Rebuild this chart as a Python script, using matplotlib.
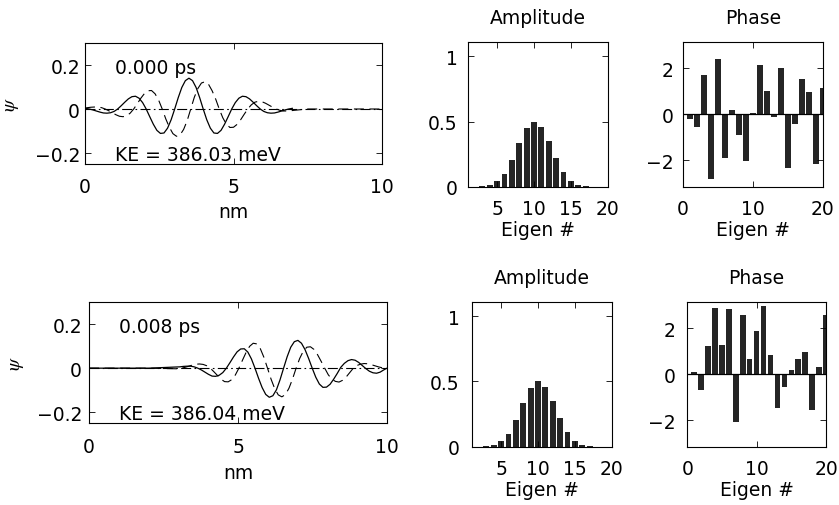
import numpy as np
import matplotlib
matplotlib.use("Agg")
import matplotlib.pyplot as plt

plt.rcParams['font.family'] = ['DejaVu Sans']
plt.rcParams['font.size'] = 13.5
plt.rcParams['axes.titlesize'] = 13.5
plt.rcParams['mathtext.fontset'] = 'stix'
plt.rcParams['axes.linewidth'] = 0.8
plt.rcParams['xtick.direction'] = 'in'
plt.rcParams['ytick.direction'] = 'in'
plt.rcParams['xtick.top'] = True
plt.rcParams['ytick.right'] = True
plt.rcParams['xtick.major.size'] = 4
plt.rcParams['ytick.major.size'] = 4
plt.rcParams['xtick.major.width'] = 0.6
plt.rcParams['ytick.major.width'] = 0.6

# ---- wave packet, t = 0.000 ps
x_re0 = np.linspace(0.02, 6.98, 59)
re0 = [0.003, 0.000, -0.004, -0.009, -0.014, -0.018, -0.019, -0.017, -0.011, 0.000,
       0.015, 0.031, 0.046, 0.056, 0.058, 0.049, 0.029, 0.000, -0.035, -0.069,
       -0.097, -0.111, -0.109, -0.087, -0.049, 0.000, 0.052, 0.098, 0.129, 0.140,
       0.129, 0.098, 0.052, 0.000, -0.049, -0.087, -0.109, -0.111, -0.097, -0.069,
       -0.035, 0.000, 0.029, 0.049, 0.058, 0.056, 0.046, 0.031, 0.015, 0.000,
       -0.011, -0.017, -0.019, -0.018, -0.014, -0.009, -0.004, 0.000, 0.003]
x_im0 = np.linspace(0.08, 7.04, 59)
im0 = [0.006, 0.008, 0.009, 0.009, 0.006, 0.000, -0.008, -0.017, -0.026, -0.033,
       -0.035, -0.031, -0.019, 0.000, 0.024, 0.049, 0.070, 0.083, 0.084, 0.069,
       0.040, 0.000, -0.045, -0.083, -0.112, -0.124, -0.118, -0.093, -0.053, 0.000,
       0.053, 0.093, 0.118, 0.124, 0.112, 0.083, 0.045, 0.000, -0.040, -0.069,
       -0.084, -0.083, -0.070, -0.049, -0.024, 0.000, 0.019, 0.031, 0.035, 0.033,
       0.026, 0.017, 0.008, 0.000, -0.006, -0.009, -0.009, -0.008, -0.006]

# ---- wave packet, t = 0.008 ps
x_re1 = np.linspace(3.05, 9.89, 58)
re1 = [0.006, 0.008, 0.009, 0.009, 0.006, 0.000, -0.008, -0.018, -0.028, -0.036,
       -0.037, -0.032, -0.020, 0.000, 0.025, 0.051, 0.074, 0.087, 0.088, 0.073,
       0.042, 0.000, -0.046, -0.088, -0.119, -0.132, -0.125, -0.098, -0.053, 0.000,
       0.052, 0.095, 0.120, 0.126, 0.113, 0.084, 0.044, 0.000, -0.041, -0.072,
       -0.087, -0.086, -0.073, -0.050, -0.024, 0.004, 0.022, 0.034, 0.039, 0.036,
       0.026, 0.012, -0.002, -0.014, -0.021, -0.023, -0.018, -0.008]
x_im1 = np.linspace(2.99, 9.95, 59)
im1 = [-0.003, 0.000, 0.004, 0.009, 0.014, 0.018, 0.019, 0.017, 0.011, 0.000,
       -0.016, -0.033, -0.050, -0.061, -0.062, -0.052, -0.031, 0.000, 0.036, 0.071,
       0.099, 0.113, 0.110, 0.088, 0.049, 0.000, -0.050, -0.092, -0.121, -0.130,
       -0.120, -0.091, -0.049, 0.000, 0.044, 0.077, 0.095, 0.097, 0.085, 0.061,
       0.031, 0.000, -0.030, -0.050, -0.060, -0.063, -0.055, -0.040, -0.020, 0.000,
       0.012, 0.018, 0.021, 0.020, 0.016, 0.011, 0.006, 0.002, 0.000]

zero_x = [0, 10]
zero_y = [0, 0]

times = ['0.000 ps', '0.008 ps']
energies = ['KE = 386.03 meV', 'KE = 386.04 meV']

# ---- eigenstate expansion
eigen_n = np.arange(1, 21)
amplitude = [0.0003, 0.001, 0.004, 0.013, 0.041, 0.100, 0.205, 0.336, 0.449, 0.500,
             0.459, 0.349, 0.218, 0.110, 0.044, 0.015, 0.005, 0.001, 0.0003, 0.0001]
phase0 = [-0.21, -0.57, 1.69, -2.79, 2.40, -1.91, 0.21, -0.91, -2.03, 0.06,
          2.13, 1.03, -0.10, 2.01, -2.31, -0.41, 1.53, 0.99, -2.16, 1.16]
phase1 = [0.12, -0.70, 1.25, 2.90, 1.28, 2.83, -2.06, 2.56, 0.66, 1.87,
          2.96, 0.82, -1.44, -0.56, 0.21, 0.66, 0.97, -1.54, 0.32, 2.58]

W, H = 839, 506
fig = plt.figure(figsize=(W / 100, H / 100), dpi=100)


def box(l, t, r, b):
    return [l / W, 1 - b / H, (r - l) / W, (b - t) / H]


def wave_axes(pos, xr, yr, xi, yi, ttxt, etxt, ypad, lab_x, lab_y):
    ax = fig.add_axes(pos)
    ax.plot(zero_x, zero_y, color='k', lw=0.8, ls=(0, (9, 3, 1.5, 3)))
    ax.plot(xi, yi, color='k', lw=0.8, ls=(0, (9, 5)))
    ax.plot(xr, yr, color='k', lw=0.9)
    ax.set_xlim(0, 10)
    ax.set_ylim(-0.25, 0.3)
    ax.set_xticks([0, 5, 10])
    ax.set_yticks([-0.2, 0, 0.2])
    ax.set_yticklabels(['\u22120.2', '0', '0.2'])
    ax.tick_params(axis='x', pad=9.7)
    ax.tick_params(axis='y', pad=ypad)
    ax.text(1.0, 0.19, ttxt, va='center', ha='left')
    ax.text(1.0, -0.207, etxt, va='center', ha='left')
    ax.set_xlabel('nm')
    ax.xaxis.set_label_coords(0.5, lab_x)
    ax.set_ylabel(r'$\psi$', fontsize=14)
    ax.yaxis.set_label_coords(lab_y, 0.5)
    return ax


def amp_axes(pos, ypad, lab_x):
    ax = fig.add_axes(pos)
    ax.bar(eigen_n, amplitude, width=0.8, color='#252525')
    ax.set_xlim(1, 20)
    ax.set_ylim(0, 1.11)
    ax.set_xticks([5, 10, 15, 20])
    ax.set_yticks([0, 0.5, 1])
    ax.set_yticklabels(['0', '0.5', '1'])
    ax.tick_params(axis='x', pad=8.6)
    ax.tick_params(axis='y', pad=ypad)
    ax.set_title('Amplitude', pad=13.6)
    ax.set_xlabel('Eigen #')
    ax.xaxis.set_label_coords(0.5, lab_x)
    return ax


def phase_axes(pos, vals, ypad, lab_x):
    ax = fig.add_axes(pos)
    ax.bar(eigen_n, vals, width=0.8, color='#252525')
    ax.axhline(0, color='k', lw=0.9)
    ax.set_xlim(0, 20)
    ax.set_ylim(-np.pi, np.pi)
    ax.set_xticks([0, 10, 20])
    ax.set_yticks([-2, 0, 2])
    ax.tick_params(axis='x', pad=8.6)
    ax.tick_params(axis='y', pad=ypad)
    ax.set_title('Phase', pad=13.6)
    ax.set_xlabel('Eigen #')
    ax.xaxis.set_label_coords(0.5, lab_x)
    return ax


wave_axes(box(85, 44, 382, 165), x_re0, re0,
          np.concatenate([[0.0], x_im0, [7.5, 10.0]]), [0.004] + im0 + [0.0, 0.0],
          times[0], energies[0], 3.6, -0.31, -0.215)
wave_axes(box(89, 303, 387, 424.3),
          np.concatenate([[0.0, 2.0], x_re1, [10.0]]), [0.0, 0.0] + re1 + [0.0],
          np.concatenate([[0.0, 2.0], x_im1, [10.0]]), [0.0, 0.0] + im1 + [0.0],
          times[1], energies[1], 5.0, -0.327, -0.212)

amp_axes(box(467.7, 43, 607.7, 187.7), 7.2, -0.231)
phase_axes(box(682.7, 43, 822.7, 187.7), phase0, 6.8, -0.231)
amp_axes(box(471.7, 302.7, 611.7, 447.7), 8.6, -0.231)
phase_axes(box(687.3, 303, 826, 447.7), phase1, 8.4, -0.231)

fig.savefig('out.png', dpi=100)
